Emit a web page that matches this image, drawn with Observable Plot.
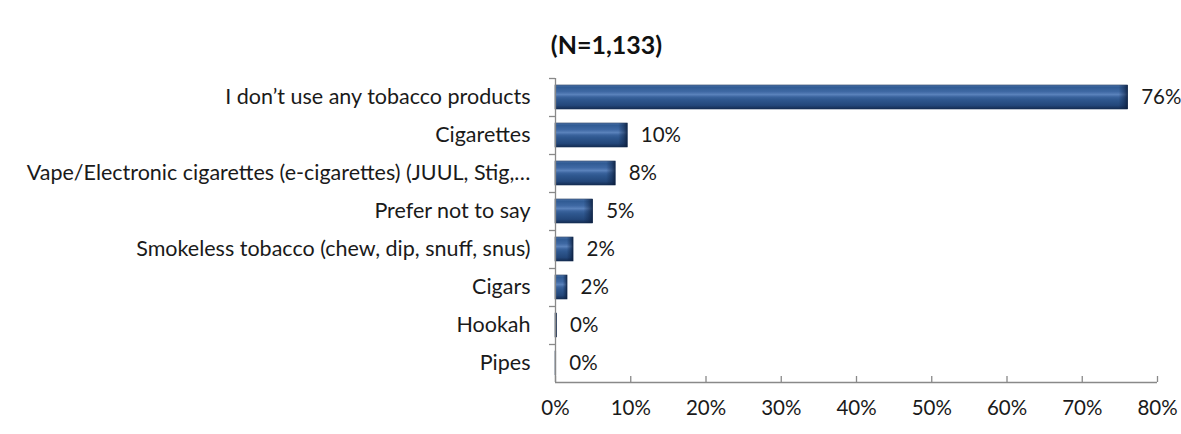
<!DOCTYPE html>
<html>
<head>
<meta charset="utf-8">
<script src="https://cdn.jsdelivr.net/npm/d3@7"></script>
<script src="https://cdn.jsdelivr.net/npm/@observablehq/plot@0.6"></script>
<style>
  body { margin: 0; background: #fff; }
  svg { font-family: Lato, "Open Sans", sans-serif; }
</style>
</head>
<body>
<div id="chart"></div>
<script>
const title = "(N=1,133)";
const categories = [
  "I don’t use any tobacco products",
  "Cigarettes",
  "Vape/Electronic cigarettes (e-cigarettes) (JUUL, Stig,…",
  "Prefer not to say",
  "Smokeless tobacco (chew, dip, snuff, snus)",
  "Cigars",
  "Hookah",
  "Pipes"
];
const values = [0.761, 0.096, 0.080, 0.050, 0.024, 0.016, 0.002, 0.001];
const valueLabels = ["76%", "10%", "8%", "5%", "2%", "2%", "0%", "0%"];
const xTicks = [0, 0.1, 0.2, 0.3, 0.4, 0.5, 0.6, 0.7, 0.8];

const data = categories.map((c, i) => ({category: c, value: values[i], label: valueLabels[i]}));
const axisColor = "#898989";
const step = (382 - 78) / categories.length;
const pct = d => Math.round(d * 100) + "%";

const plot = Plot.plot({
  width: 1181,
  height: 434,
  marginLeft: 555,
  marginRight: 24,
  marginTop: 78,
  marginBottom: 52,
  style: {fontSize: "21px", color: "#1a1a1a", background: "#fff"},
  x: {domain: [0, 0.8], ticks: xTicks, tickFormat: pct, label: null},
  y: {domain: categories, paddingInner: 0.37, paddingOuter: 0.185, label: null},
  marks: [
    Plot.barX(data, {y: "category", x: "value", fill: "url(#bevel)", stroke: "#1a3358", strokeWidth: 0.6}),
    Plot.barX(data, {y: "category", x1: d => d.value - Math.min(0.012, d.value * 0.35), x2: "value", fill: "url(#endbevel)"}),
    Plot.text(data, {y: "category", x: "value", text: "label", textAnchor: "start", dx: 13, fontSize: 20.5, fill: "#1a1a1a"}),
    Plot.ruleX([0], {stroke: axisColor, strokeWidth: 1.3}),
    Plot.ruleY([categories[categories.length - 1]], {dy: step / 2, stroke: axisColor, strokeWidth: 1.3}),
    Plot.ruleY(categories, {y: d => d, dy: -step / 2, x1: -0.008, x2: 0, stroke: axisColor, strokeWidth: 1.3, clip: false}),
    Plot.ruleX(xTicks, {x: d => d, insetTop: (382 - 78) - 6, stroke: axisColor, strokeWidth: 1.3}),
    Plot.axisX({tickSize: 0, tickPadding: 18, fontSize: 20.5, ticks: xTicks, tickFormat: pct, label: null}),
    Plot.axisY({tickSize: 0, tickPadding: 25, fontSize: 21.5, label: null}),
    Plot.text([title], {frameAnchor: "top-left", lineAnchor: "middle", dx: 606 - 555, dy: 45 - 78, textAnchor: "middle", fontWeight: "bold", fontSize: 25, fill: "#111"})
  ]
});

const defs = d3.select(plot).insert("defs", ":first-child");
const g = defs.append("linearGradient").attr("id", "bevel").attr("x1", 0).attr("y1", 0).attr("x2", 0).attr("y2", 1);
[["0%", "#5b80b5"], ["8%", "#2f5a93"], ["28%", "#3f69a4"], ["40%", "#5a82bb"], ["50%", "#3a639d"], ["60%", "#2f5890"], ["85%", "#23477a"], ["100%", "#142c52"]]
  .forEach(([o, c]) => g.append("stop").attr("offset", o).attr("stop-color", c));
const e = defs.append("linearGradient").attr("id", "endbevel").attr("x1", 0).attr("y1", 0).attr("x2", 1).attr("y2", 0);
[["0%", "#0d2142", 0], ["60%", "#0d2142", 0.45], ["100%", "#0a1a36", 0.8]]
  .forEach(([o, c, op]) => e.append("stop").attr("offset", o).attr("stop-color", c).attr("stop-opacity", op));

document.getElementById("chart").appendChild(plot);
</script>
</body>
</html>
